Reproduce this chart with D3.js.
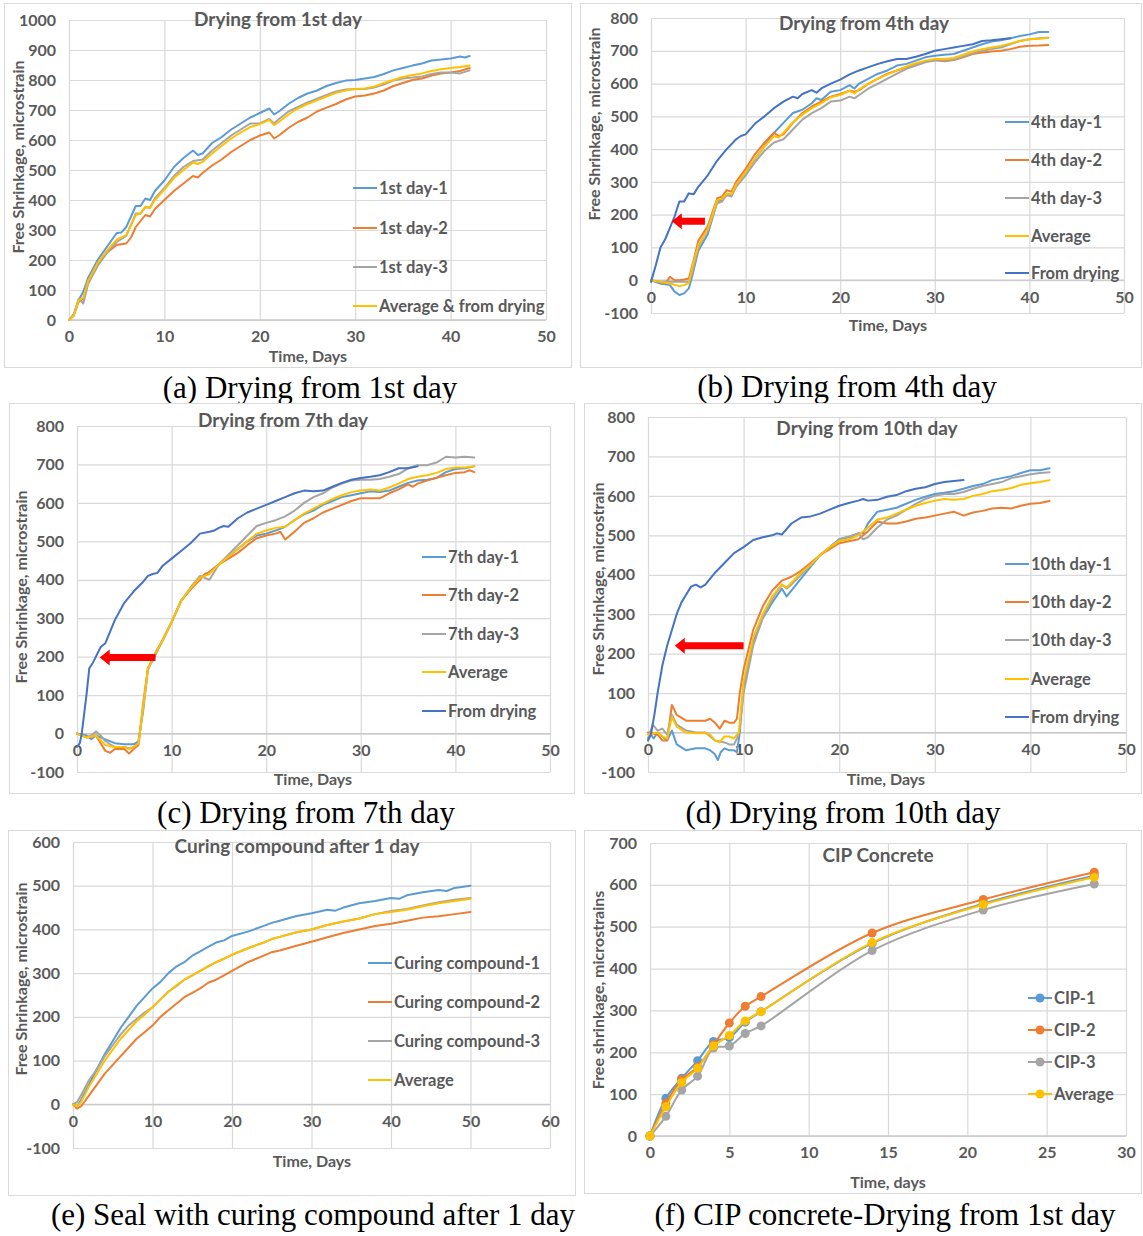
<!DOCTYPE html>
<html>
<head>
<meta charset="utf-8">
<script src="https://cdn.jsdelivr.net/npm/d3@7"></script>
<style>
  body { margin: 0; background: #fff; }
  svg { display: block; }
</style>
</head>
<body>
<svg id="fig" width="1143" height="1236"></svg>
<script>
// ---------- Series data: [day, microstrain] ----------

// (a) Drying from 1st day
const a_day1 = [[0,0],[0.5,20],[1,65],[1.5,95],[2,140],[3,200],[4,245],[5,290],[5.5,292],[6,310],[7,380],[7.5,380],[8,405],[8.5,400],[9,430],[10,465],[11,510],[12,540],[13,565],[13.5,550],[14,555],[15,590],[16,610],[17,635],[18,655],[19,675],[20,690],[21,705],[21.5,685],[22,695],[23,720],[24,740],[25,755],[26,765],[27,780],[28,790],[29,798],[30,800],[31,805],[32,810],[33,820],[34,832],[35,840],[36,848],[37,855],[38,865],[39,868],[40,872],[41,878],[41.5,875],[42,880]];
const a_day2 = [[0,0],[0.5,15],[1,60],[1.5,70],[2,130],[3,185],[4,225],[5,250],[6,255],[6.5,275],[7,310],[7.5,330],[8,350],[8.5,345],[9,370],[10,400],[11,430],[12,455],[13,480],[13.5,475],[14,490],[15,515],[16,535],[17,560],[18,580],[19,600],[20,615],[21,625],[21.5,605],[22,615],[23,640],[24,660],[25,675],[26,695],[27,708],[28,720],[29,735],[30,745],[31,748],[32,755],[33,765],[34,780],[35,790],[36,800],[37,805],[38,815],[39,822],[40,825],[41,830],[42,840]];
const a_day3 = [[0,0],[0.5,15],[1,70],[1.5,55],[2,120],[3,180],[4,225],[5,260],[6,280],[7,355],[7.5,355],[8,375],[8.5,375],[9,405],[10,440],[11,480],[12,510],[13,530],[14,535],[15,565],[16,590],[17,615],[18,635],[19,655],[20,655],[21,670],[21.5,655],[22,670],[23,695],[24,710],[25,725],[26,738],[27,750],[28,762],[29,768],[30,770],[31,770],[32,775],[33,785],[34,798],[35,805],[36,808],[37,812],[38,820],[39,825],[40,825],[41,822],[42,832]];
const a_avg  = [[0,0],[0.5,15],[1,65],[1.5,75],[2,130],[3,190],[4,232],[5,268],[6,283],[7,350],[7.5,355],[8,378],[8.5,373],[9,400],[10,435],[11,473],[12,500],[13,525],[13.5,520],[14,527],[15,555],[16,580],[17,605],[18,625],[19,643],[20,653],[21,667],[21.5,650],[22,660],[23,685],[24,705],[25,720],[26,732],[27,745],[28,757],[29,765],[30,770],[31,772],[32,778],[33,790],[34,800],[35,810],[36,817],[37,822],[38,830],[39,836],[40,840],[41,843],[42,848]];

// (b) Drying from 4th day
const b_day1 = [[0,0],[1,-10],[2,-15],[2.5,-35],[3,-45],[3.5,-40],[4,-25],[4.5,30],[5,90],[6,140],[7,240],[7.5,245],[8,260],[8.5,258],[9,290],[10,330],[11,370],[12,410],[13,450],[14,480],[15,510],[16,520],[17,540],[17.5,555],[18,550],[19,575],[20,580],[21,595],[21.5,585],[22,600],[23,615],[24,630],[25,640],[26,655],[27,660],[28,670],[29,680],[30,685],[31,688],[32,690],[33,700],[34,710],[35,720],[36,728],[37,732],[38,738],[39,745],[40,750],[41,757],[42,757]];
const b_day2 = [[0,0],[1,-5],[1.5,-10],[2,10],[2.5,0],[3,0],[3.5,2],[4,5],[4.5,60],[5,120],[6,165],[7,250],[7.5,255],[8,275],[8.5,270],[9,300],[10,340],[11,385],[12,420],[13,450],[13.5,440],[14,445],[15,480],[16,510],[17,530],[18,545],[19,560],[20,568],[21,578],[21.5,575],[22,580],[23,600],[24,615],[25,630],[26,640],[27,650],[28,660],[29,668],[30,672],[31,668],[32,672],[33,680],[34,690],[35,695],[36,698],[37,700],[38,705],[39,712],[40,715],[41,716],[42,718]];
const b_day3 = [[0,0],[1,-5],[2,-5],[3,-5],[4,-5],[4.5,40],[5,100],[6,155],[7,235],[7.5,240],[8,260],[8.5,255],[9,285],[10,320],[11,360],[12,395],[13,420],[14,430],[15,460],[16,490],[17,510],[18,525],[19,545],[20,548],[21,560],[21.5,555],[22,565],[23,585],[24,600],[25,615],[26,630],[27,645],[28,655],[29,665],[30,670],[31,670],[32,672],[33,682],[34,692],[35,700],[36,705],[37,710],[38,720],[39,730],[40,735],[41,738],[42,740]];
const b_avg  = [[0,0],[1,-5],[2,-10],[3,-18],[3.5,-15],[4,-8],[4.5,55],[5,105],[6,155],[7,245],[7.5,248],[8,265],[8.5,262],[9,292],[10,330],[11,372],[12,408],[13,440],[13.5,435],[14,450],[15,482],[16,505],[17,525],[18,540],[19,558],[20,565],[21,578],[21.5,570],[22,582],[23,600],[24,615],[25,628],[26,640],[27,652],[28,662],[29,670],[30,675],[31,675],[32,678],[33,688],[34,698],[35,705],[36,710],[37,715],[38,722],[39,730],[40,735],[41,737],[42,740]];
const b_dry  = [[0,-5],[0.5,45],[1,100],[1.5,125],[2,160],[2.5,195],[3,240],[3.5,240],[4,265],[4.5,262],[5,285],[6,320],[7,365],[8,400],[9,430],[9.5,440],[10,445],[11,478],[12,500],[13,525],[14,545],[15,560],[15.5,555],[16,568],[17,580],[17.5,572],[18,585],[19,600],[20,612],[21,628],[22,640],[23,650],[24,660],[25,668],[26,675],[27,675],[28,682],[29,690],[30,700],[31,705],[32,710],[33,715],[34,720],[35,730],[36,732],[37,735],[38,738]];

// (c) Drying from 7th day
const c_day1 = [[0,0],[1,-5],[1.5,-15],[2,-5],[3,-15],[4,-25],[5,-28],[6,-28],[6.5,-20],[7,60],[7.5,170],[8,190],[8.5,215],[9,240],[10,290],[11,345],[12,375],[13,405],[14,420],[15,440],[16,460],[17,480],[18,500],[19,515],[20,520],[21,528],[22,538],[23,555],[24,570],[25,580],[26,595],[27,605],[28,615],[29,620],[30,625],[31,630],[32,628],[33,632],[34,642],[35,652],[36,658],[37,660],[38,665],[39,680],[40,688],[41,690],[42,695]];
const c_day2 = [[0,0],[1,-10],[2,-5],[2.5,-25],[3,-45],[3.5,-50],[4,-40],[5,-40],[5.5,-52],[6,-40],[6.5,-30],[7,80],[7.5,170],[8,195],[8.5,220],[9,240],[10,290],[11,345],[12,375],[13,400],[13.5,415],[14,420],[15,440],[16,455],[17,470],[18,490],[19,508],[20,515],[21,520],[21.5,525],[22,505],[23,525],[24,548],[25,560],[26,575],[27,585],[28,595],[29,605],[30,612],[31,612],[32,612],[33,625],[34,635],[35,648],[35.5,642],[36,650],[37,658],[38,665],[39,672],[40,678],[41,680],[41.5,685],[42,680]];
const c_day3 = [[0,0],[1,-10],[1.5,-5],[2,5],[2.5,-5],[3,-20],[4,-35],[5,-35],[5.5,-38],[6,-35],[6.5,-25],[7,70],[7.5,165],[8,195],[8.5,218],[9,240],[10,290],[11,345],[12,380],[13,410],[13.5,405],[14,400],[15,440],[16,465],[17,490],[18,515],[19,540],[20,548],[21,555],[22,565],[23,580],[24,600],[25,615],[26,625],[27,640],[28,650],[29,658],[30,660],[31,660],[32,662],[33,668],[34,675],[35,690],[36,698],[37,698],[38,705],[39,720],[40,718],[41,720],[42,718]];
const c_avg  = [[0,0],[1,-10],[2,-5],[3,-30],[4,-35],[5,-35],[5.5,-40],[6,-35],[6.5,-25],[7,70],[7.5,170],[8,195],[8.5,218],[9,240],[10,290],[11,345],[12,378],[13,405],[14,415],[15,440],[16,460],[17,480],[18,500],[19,520],[20,528],[21,535],[22,538],[23,555],[24,572],[25,585],[26,598],[27,610],[28,620],[29,628],[30,632],[31,635],[32,632],[33,640],[34,650],[35,662],[36,668],[37,672],[38,678],[39,688],[40,692],[41,692],[42,695]];
const c_dry  = [[0,-35],[0.3,-25],[0.5,0],[1,100],[1.3,170],[1.7,185],[2,200],[2.5,225],[3,235],[3.5,265],[4,295],[5,340],[6,370],[7,395],[7.5,410],[8,415],[8.5,418],[9,435],[10,455],[11,475],[12,495],[13,520],[14,525],[14.5,528],[15,535],[15.5,540],[16,538],[17,560],[18,575],[19,585],[20,595],[21,605],[22,615],[23,625],[24,632],[25,630],[26,632],[27,642],[28,652],[29,660],[30,665],[31,668],[32,672],[33,680],[34,690],[35,690],[36,695]];

// (d) Drying from 10th day
const d_day1 = [[0,-15],[0.3,-5],[0.6,-15],[1,0],[1.5,-10],[2,-20],[2.5,5],[3,-30],[4,-45],[5,-40],[6,-40],[6.5,-45],[7,-55],[7.3,-70],[7.6,-50],[8,-40],[8.5,-45],[9,-45],[9.3,-50],[9.6,0],[10,120],[11,230],[12,290],[13,330],[14,365],[14.5,345],[15,360],[16,390],[17,420],[18,450],[19,470],[20,490],[21,495],[22,505],[22.5,505],[23,530],[24,560],[25,565],[26,570],[27,580],[28,590],[29,598],[30,605],[31,608],[32,612],[33,618],[34,625],[35,630],[36,640],[37,645],[38,650],[39,658],[40,665],[41,665],[42,670]];
const d_day2 = [[0,0],[1,-5],[1.5,-20],[2,-20],[2.5,70],[3,45],[4,30],[5,30],[6,30],[6.5,35],[7,25],[7.5,10],[8,30],[8.5,25],[9,25],[9.3,35],[9.6,100],[10,160],[11,260],[12,320],[13,360],[14,385],[15,395],[16,410],[17,430],[18,450],[19,465],[20,480],[21,485],[22,490],[23,510],[24,535],[25,530],[26,530],[27,535],[28,542],[29,545],[30,550],[31,555],[32,560],[33,550],[34,558],[35,562],[36,568],[37,570],[38,568],[39,575],[40,580],[41,582],[42,587]];
const d_day3 = [[0,-15],[0.5,20],[1,5],[1.5,10],[2,-5],[2.5,45],[3,20],[4,5],[5,0],[6,0],[7,-20],[8,-25],[8.5,-30],[9,-30],[9.5,-5],[10,100],[11,220],[12,290],[13,340],[14,375],[14.5,365],[15,375],[16,400],[17,425],[18,450],[19,470],[20,490],[21,497],[22,505],[22.5,490],[23,495],[24,520],[25,540],[26,550],[27,565],[28,580],[29,592],[30,600],[31,605],[32,605],[33,610],[34,618],[35,625],[36,630],[37,635],[38,645],[39,650],[40,655],[41,658],[42,660]];
const d_avg  = [[0,-5],[1,0],[1.5,-10],[2,-15],[2.5,40],[3,15],[4,0],[5,-2],[6,-2],[6.5,-5],[7,-20],[7.5,-25],[8,-10],[8.5,-10],[9,-15],[9.5,0],[10,130],[11,240],[12,300],[13,345],[14,375],[14.5,368],[15,380],[16,405],[17,425],[18,450],[19,470],[20,485],[21,490],[22,500],[23,520],[24,540],[25,545],[26,555],[27,565],[28,575],[29,582],[30,588],[31,592],[32,590],[33,592],[34,600],[35,605],[36,612],[37,615],[38,620],[39,628],[40,632],[41,635],[42,640]];
const d_dry  = [[0,-20],[0.3,-5],[0.7,50],[1,100],[1.5,170],[2,220],[2.5,260],[3,300],[3.5,330],[4,350],[4.5,370],[5,375],[5.5,368],[6,375],[6.5,390],[7,405],[8,430],[9,455],[10,470],[11,488],[12,495],[13,500],[13.5,505],[14,502],[15,530],[16,545],[17,548],[18,555],[19,565],[20,575],[21,582],[22,588],[22.5,592],[23,588],[24,590],[25,598],[26,602],[27,612],[28,618],[29,622],[30,630],[31,635],[32,638],[33,640]];

// (e) Curing compound after 1 day
const e_cc1 = [[0,0],[0.5,-5],[1,10],[2,45],[3,80],[4,115],[5,145],[6,175],[7,200],[8,225],[9,245],[10,265],[11,280],[12,300],[13,315],[14,325],[15,340],[16,350],[17,360],[18,370],[19,375],[20,385],[22,395],[24,408],[25,415],[26,420],[28,430],[30,437],[32,445],[33,443],[34,450],[36,460],[38,465],[40,472],[41,470],[42,478],[44,485],[46,490],[47,488],[48,495],[50,500]];
const e_cc2 = [[0,0],[0.5,-10],[1,-5],[2,20],[3,45],[4,70],[5,90],[6,110],[7,130],[8,150],[9,165],[10,180],[11,200],[12,215],[13,230],[14,245],[15,255],[16,265],[17,278],[18,285],[19,295],[20,305],[22,325],[24,340],[25,348],[26,352],[28,362],[30,372],[32,382],[34,392],[36,400],[38,408],[40,413],[42,420],[44,427],[46,430],[48,435],[50,440]];
const e_cc3 = [[0,0],[0.5,5],[1,20],[2,55],[3,80],[4,110],[5,135],[6,160],[7,180],[8,195],[9,210],[10,222],[11,240],[12,258],[13,270],[14,285],[15,295],[16,305],[17,315],[18,325],[19,333],[20,342],[22,357],[24,370],[25,378],[26,383],[28,393],[30,400],[32,410],[34,418],[36,425],[38,435],[40,442],[42,447],[44,455],[46,462],[48,468],[50,472]];
const e_avg = [[0,0],[0.5,-5],[1,5],[2,40],[3,70],[4,100],[5,125],[6,150],[7,170],[8,190],[9,205],[10,222],[11,240],[12,257],[13,272],[14,285],[15,295],[16,305],[17,316],[18,325],[19,333],[20,342],[22,357],[24,370],[25,378],[26,383],[28,393],[30,400],[32,410],[34,418],[36,425],[38,435],[40,440],[42,445],[44,453],[46,460],[48,465],[50,470]];

// (f) CIP concrete, measured on fixed days
const f_days = [0, 1, 2, 3, 4, 5, 6, 7, 14, 21, 28];
const f_cip1 = [0, 90, 138, 180, 226, 235, 272, 297, 460, 555, 622];
const f_cip2 = [0, 78, 135, 165, 218, 270, 310, 333, 485, 565, 630];
const f_cip3 = [0, 47, 110, 143, 210, 215, 245, 263, 443, 540, 602];
const f_avg  = [0, 70, 128, 162, 215, 240, 275, 297, 462, 553, 618];

// Tick values
const ticks0to1000 = [0,100,200,300,400,500,600,700,800,900,1000];
const ticksM100to800 = [-100,0,100,200,300,400,500,600,700,800];
const ticksM100to600 = [-100,0,100,200,300,400,500,600];
const ticks0to700 = [0,100,200,300,400,500,600,700];
const days0to50 = [0,10,20,30,40,50];
const days0to60 = [0,10,20,30,40,50,60];
const days0to30 = [0,5,10,15,20,25,30];

// ---------- Styling ----------
const BLUE = "#5B9BD5", ORANGE = "#ED7D31", GRAY = "#A5A5A5", GOLD = "#FFC000", NAVY = "#4472C4";
const TXT = "#595959", GRID = "#D9D9D9";
const SANS = "Lato, 'Open Sans', sans-serif";
const SERIF = "'Liberation Serif', 'Times New Roman', serif";
const FS_TICK = 16, FS_LEGEND = 16.5, FS_TITLE = 19, FS_AXIS = 16, FS_CAPTION = 31;

const toPairs = (days, vals) => days.map((d, i) => [d, vals[i]]);

const panels = [
  {
    box: [4, 3, 567, 364],
    plot: { left: 69, right: 546, top: 20, bottom: 320 },
    xDomain: [0, 50], yDomain: [0, 1000], xTicks: days0to50, yTicks: ticks0to1000,
    title: "Drying from 1st day", titlePos: [278, 19],
    xLabel: "Time, Days", xLabelPos: [308, 356],
    yLabel: "Free Shrinkage, microstrain", yLabelPos: [18, 157],
    legend: { x: 353, rows: [188, 228, 267, 306] },
    series: [
      { name: "1st day-1", color: BLUE, data: a_day1 },
      { name: "1st day-2", color: ORANGE, data: a_day2 },
      { name: "1st day-3", color: GRAY, data: a_day3 },
      { name: "Average & from drying", color: GOLD, data: a_avg }
    ],
    caption: "(a) Drying from 1st day", captionPos: [310, 398]
  },
  {
    box: [580, 3, 561, 364],
    plot: { left: 651, right: 1124, top: 18, bottom: 313 },
    xDomain: [0, 50], yDomain: [-100, 800], xTicks: days0to50, yTicks: ticksM100to800,
    title: "Drying from 4th day", titlePos: [864, 23],
    xLabel: "Time, Days", xLabelPos: [888, 325],
    yLabel: "Free Shrinkage, microstrain", yLabelPos: [594, 124],
    legend: { x: 1005, rows: [122, 160, 198, 236, 273] },
    series: [
      { name: "4th day-1", color: BLUE, data: b_day1 },
      { name: "4th day-2", color: ORANGE, data: b_day2 },
      { name: "4th day-3", color: GRAY, data: b_day3 },
      { name: "Average", color: GOLD, data: b_avg },
      { name: "From drying", color: NAVY, data: b_dry }
    ],
    arrow: { from: 5.7, to: 2.2, at: 180 },
    caption: "(b) Drying from 4th day", captionPos: [847, 397]
  },
  {
    box: [9, 403, 565, 390],
    plot: { left: 77, right: 550, top: 426, bottom: 772 },
    xDomain: [0, 50], yDomain: [-100, 800], xTicks: days0to50, yTicks: ticksM100to800,
    title: "Drying from 7th day", titlePos: [283, 420],
    xLabel: "Time, Days", xLabelPos: [313, 779],
    yLabel: "Free Shrinkage, microstrain", yLabelPos: [21, 587],
    legend: { x: 422, rows: [557, 595, 634, 672, 711] },
    series: [
      { name: "7th day-1", color: BLUE, data: c_day1 },
      { name: "7th day-2", color: ORANGE, data: c_day2 },
      { name: "7th day-3", color: GRAY, data: c_day3 },
      { name: "Average", color: GOLD, data: c_avg },
      { name: "From drying", color: NAVY, data: c_dry }
    ],
    arrow: { from: 8.3, to: 2.4, at: 198 },
    caption: "(c) Drying from 7th day", captionPos: [306, 823]
  },
  {
    box: [584, 403, 557, 390],
    plot: { left: 648, right: 1126, top: 417, bottom: 772 },
    xDomain: [0, 50], yDomain: [-100, 800], xTicks: days0to50, yTicks: ticksM100to800,
    title: "Drying from 10th day", titlePos: [867, 428],
    xLabel: "Time, Days", xLabelPos: [886, 779],
    yLabel: "Free Shrinkage, microstrain", yLabelPos: [598, 579],
    legend: { x: 1005, rows: [564, 602, 640, 679, 717] },
    series: [
      { name: "10th day-1", color: BLUE, data: d_day1 },
      { name: "10th day-2", color: ORANGE, data: d_day2 },
      { name: "10th day-3", color: GRAY, data: d_day3 },
      { name: "Average", color: GOLD, data: d_avg },
      { name: "From drying", color: NAVY, data: d_dry }
    ],
    arrow: { from: 10, to: 2.8, at: 220 },
    caption: "(d) Drying from 10th day", captionPos: [843, 823]
  },
  {
    box: [8, 830, 567, 365],
    plot: { left: 73, right: 550, top: 842, bottom: 1148 },
    xDomain: [0, 60], yDomain: [-100, 600], xTicks: days0to60, yTicks: ticksM100to600,
    title: "Curing compound after 1 day", titlePos: [297, 846],
    xLabel: "Time, Days", xLabelPos: [312, 1161],
    yLabel: "Free Shrinkage, microstrain", yLabelPos: [21, 979],
    legend: { x: 368, rows: [963, 1002, 1041, 1080] },
    series: [
      { name: "Curing compound-1", color: BLUE, data: e_cc1 },
      { name: "Curing compound-2", color: ORANGE, data: e_cc2 },
      { name: "Curing compound-3", color: GRAY, data: e_cc3 },
      { name: "Average", color: GOLD, data: e_avg }
    ],
    caption: "(e) Seal with curing compound after 1 day", captionPos: [313, 1225]
  },
  {
    box: [584, 830, 557, 363],
    plot: { left: 650, right: 1126, top: 843, bottom: 1136 },
    xDomain: [0, 30], yDomain: [0, 700], xTicks: days0to30, yTicks: ticks0to700,
    title: "CIP Concrete", titlePos: [878, 855],
    xLabel: "Time, days", xLabelPos: [888, 1182],
    yLabel: "Free shrinkage, microstrains", yLabelPos: [598, 990],
    legend: { x: 1028, rows: [998, 1030, 1062, 1094] },
    markers: true, smooth: true,
    series: [
      { name: "CIP-1", color: BLUE, data: toPairs(f_days, f_cip1) },
      { name: "CIP-2", color: ORANGE, data: toPairs(f_days, f_cip2) },
      { name: "CIP-3", color: GRAY, data: toPairs(f_days, f_cip3) },
      { name: "Average", color: GOLD, data: toPairs(f_days, f_avg) }
    ],
    caption: "(f) CIP concrete-Drying from 1st day", captionPos: [885, 1225]
  }
];

const svg = d3.select("#fig");
svg.append("rect").attr("width", 1143).attr("height", 1236).attr("fill", "#fff");

function styleText(sel, size) {
  return sel.attr("fill", TXT).attr("font-family", SANS).attr("font-weight", 700).attr("font-size", size);
}

function drawPanel(p) {
  const g = svg.append("g");
  const { left, right, top, bottom } = p.plot;

  // chart-area frame
  g.append("rect")
    .attr("x", p.box[0] + 0.5).attr("y", p.box[1] + 0.5)
    .attr("width", p.box[2]).attr("height", p.box[3])
    .attr("fill", "#fff").attr("stroke", GRID).attr("stroke-width", 1);

  const x = d3.scaleLinear().domain(p.xDomain).range([left, right]);
  const y = d3.scaleLinear().domain(p.yDomain).range([bottom, top]);

  // vertical gridlines
  g.append("g")
    .attr("transform", `translate(0,${bottom})`)
    .call(d3.axisBottom(x).tickValues(p.xTicks).tickSize(-(bottom - top)).tickFormat(""))
    .call(a => a.select(".domain").remove())
    .call(a => a.selectAll("line").attr("stroke", GRID).attr("stroke-width", 1.2));

  // horizontal gridlines + y tick labels
  g.append("g")
    .attr("transform", `translate(${left},0)`)
    .call(d3.axisLeft(y).tickValues(p.yTicks).tickSize(-(right - left)).tickPadding(13)
      .tickFormat(d => String(d)))
    .call(a => a.select(".domain").remove())
    .call(a => a.selectAll("line").attr("stroke", GRID).attr("stroke-width", 1.2))
    .call(a => styleText(a.selectAll("text"), FS_TICK));

  // horizontal axis line at zero, with the day labels under it
  const y0 = y(0);
  g.append("line").attr("x1", left).attr("x2", right).attr("y1", y0).attr("y2", y0)
    .attr("stroke", "#C9C9C9").attr("stroke-width", 1.3);
  g.append("g")
    .attr("transform", `translate(0,${y0})`)
    .call(d3.axisBottom(x).tickValues(p.xTicks).tickSize(0).tickPadding(11)
      .tickFormat(d => String(d)))
    .call(a => a.select(".domain").remove())
    .call(a => styleText(a.selectAll("text"), FS_TICK));

  // series
  const line = d3.line()
    .x(d => x(d[0])).y(d => y(d[1]))
    .curve(p.smooth ? d3.curveCatmullRom.alpha(0.5) : d3.curveLinear);
  p.series.forEach(s => {
    g.append("path").datum(s.data)
      .attr("d", line)
      .attr("fill", "none").attr("stroke", s.color)
      .attr("stroke-width", 2).attr("stroke-linejoin", "round").attr("stroke-linecap", "round");
    if (p.markers) {
      g.selectAll(null).data(s.data).join("circle")
        .attr("cx", d => x(d[0])).attr("cy", d => y(d[1])).attr("r", 4.5)
        .attr("fill", s.color);
    }
  });

  // arrow linking the shifted curve to the from-drying curve
  if (p.arrow) {
    const xs = x(p.arrow.from), xt = x(p.arrow.to), ya = y(p.arrow.at);
    const hw = 3.5, hh = 8, hl = 10;
    const pts = [[xs, ya - hw], [xt + hl, ya - hw], [xt + hl, ya - hh], [xt, ya],
                 [xt + hl, ya + hh], [xt + hl, ya + hw], [xs, ya + hw]];
    g.append("path").attr("d", "M" + pts.map(q => q.join(",")).join("L") + "Z")
      .attr("fill", "#FF0000");
  }

  // legend
  p.series.forEach((s, i) => {
    const ry = p.legend.rows[i];
    g.append("line")
      .attr("x1", p.legend.x).attr("x2", p.legend.x + 24).attr("y1", ry).attr("y2", ry)
      .attr("stroke", s.color).attr("stroke-width", 2);
    if (p.markers) {
      g.append("circle").attr("cx", p.legend.x + 12).attr("cy", ry).attr("r", 4.5).attr("fill", s.color);
    }
    styleText(g.append("text")
      .attr("x", p.legend.x + 26).attr("y", ry).attr("dy", "0.35em"), FS_LEGEND)
      .text(s.name);
  });

  // title
  styleText(g.append("text")
    .attr("x", p.titlePos[0]).attr("y", p.titlePos[1]).attr("dy", "0.35em")
    .attr("text-anchor", "middle"), FS_TITLE)
    .text(p.title);

  // axis titles
  styleText(g.append("text")
    .attr("x", p.xLabelPos[0]).attr("y", p.xLabelPos[1]).attr("dy", "0.35em")
    .attr("text-anchor", "middle"), FS_AXIS)
    .text(p.xLabel);
  styleText(g.append("text")
    .attr("transform", `translate(${p.yLabelPos[0]},${p.yLabelPos[1]}) rotate(-90)`)
    .attr("dy", "0.35em").attr("text-anchor", "middle"), FS_AXIS)
    .text(p.yLabel);

  // caption under the panel
  svg.append("text")
    .attr("x", p.captionPos[0]).attr("y", p.captionPos[1])
    .attr("text-anchor", "middle")
    .attr("fill", "#000").attr("font-family", SERIF).attr("font-size", FS_CAPTION)
    .text(p.caption);
}

panels.forEach(drawPanel);
</script>
</body>
</html>
